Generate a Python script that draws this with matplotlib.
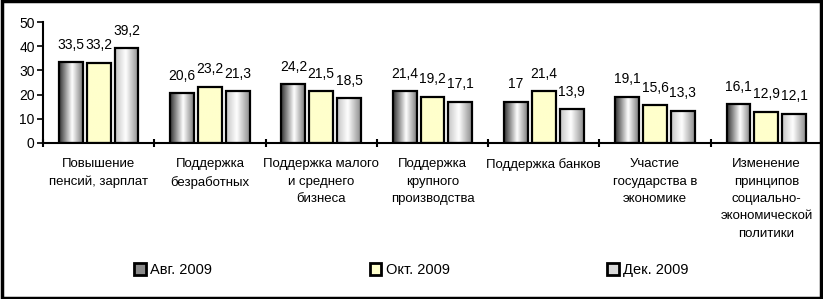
import matplotlib
matplotlib.use("Agg")
import matplotlib.pyplot as plt
import numpy as np
from matplotlib.patches import Rectangle, Patch
from matplotlib.colors import LinearSegmentedColormap

plt.rcParams['font.family'] = ['Liberation Sans', 'DejaVu Sans']

categories = [
    "Повышение\nпенсий, зарплат",
    "Поддержка\nбезработных",
    "Поддержка малого\nи среднего\nбизнеса",
    "Поддержка\nкрупного\nпроизводства",
    "Поддержка банков",
    "Участие\nгосударства в\nэкономике",
    "Изменение\nпринципов\nсоциально-\nэкономической\nполитики",
]
series_names = ["Авг. 2009", "Окт. 2009", "Дек. 2009"]
aug = [33.5, 20.6, 24.2, 21.4, 17.0, 19.1, 16.1]
octo = [33.2, 23.2, 21.5, 19.2, 21.4, 15.6, 12.9]
dec = [39.2, 21.3, 18.5, 17.1, 13.9, 13.3, 12.1]
yticks = [0, 10, 20, 30, 40, 50]

cmaps = [
    LinearSegmentedColormap.from_list("s1", [(0, "#303030"), (0.55, "#ffffff"), (1, "#7a7a7a")]),
    LinearSegmentedColormap.from_list("s2", [(0, "#ffffcc"), (1, "#ffffcc")]),
    LinearSegmentedColormap.from_list("s3", [(0, "#c4c4c4"), (0.45, "#ffffff"), (1, "#8c8c8c")]),
]
legend_faces = ["#8a8a8a", "#ffffcc", "#d8d8d8"]

W, H = 823, 299
fig = plt.figure(figsize=(W / 100, H / 100), dpi=100)
ax = fig.add_axes([43 / W, 1 - 143 / H, (822 - 43) / W, (143 - 22) / H])

x = np.arange(len(categories))
bw = 0.215
gap = 0.035
offsets = [-(bw + gap), 0, bw + gap]
grad = np.linspace(0, 1, 256).reshape(1, -1)

def fmt(v):
    s = ("%.1f" % v).replace(".", ",")
    if s.endswith(",0"):
        s = s[:-2]
    return s

for vals, off, cm in zip([aug, octo, dec], offsets, cmaps):
    bars = ax.bar(x + off, vals, width=bw, facecolor="none", edgecolor="black",
                  linewidth=1.6, zorder=3)
    for b, v in zip(bars, vals):
        x0 = b.get_x()
        im = ax.imshow(grad, cmap=cm, aspect="auto", extent=(x0, x0 + bw, 0, v),
                       zorder=2, interpolation="bicubic")
        im.set_clip_path(b)
        ax.annotate(fmt(v), (x0 + bw / 2, v), xytext=(0, 7.5), textcoords="offset points",
                    ha="center", va="bottom", fontsize=10)

ax.set_xlim(-0.5, len(categories) - 0.5)
ax.set_ylim(0, 50)
ax.set_yticks(yticks)
ax.tick_params(axis="y", labelsize=10, direction="out", length=4, width=1.2, pad=2)
ax.set_xticks(x)
ax.set_xticklabels(categories, fontsize=9.5, linespacing=1.6, va="top")
ax.tick_params(axis="x", which="major", length=0, pad=11)
ax.set_xticks(np.arange(-0.5, len(categories), 1), minor=True)
ax.tick_params(axis="x", which="minor", direction="inout", length=6, width=1.5)
for s in ["top", "right"]:
    ax.spines[s].set_visible(False)
ax.spines["left"].set_linewidth(1.5)
ax.spines["bottom"].set_linewidth(1.5)
ax.set_facecolor("none")

handles = [Patch(facecolor=c, edgecolor="black", linewidth=2) for c in legend_faces]
leg = fig.legend(handles, series_names, loc="center", bbox_to_anchor=(0.5, 1 - 270 / H),
                 ncol=3, frameon=False, fontsize=10.5, handlelength=0.8, handleheight=0.8,
                 handletextpad=0.3, columnspacing=10.8)

fig.patches.append(Rectangle((0.002, 0.004), 0.995, 0.992, transform=fig.transFigure,
                             fill=False, edgecolor="black", linewidth=2.5))

fig.savefig("out.png", dpi=100)
